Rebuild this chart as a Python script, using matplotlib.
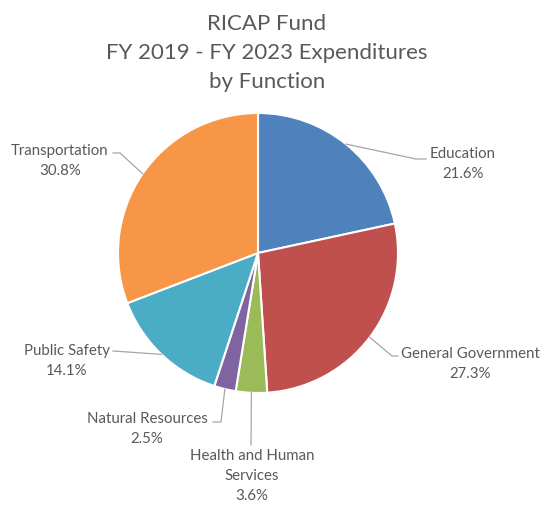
import matplotlib.pyplot as plt
import numpy as np

# RICAP fund spending shares, FY 2019 - FY 2023
functions = ["Education", "General Government", "Health and Human\nServices",
             "Natural Resources", "Public Safety", "Transportation"]
shares = [21.6, 27.3, 3.6, 2.5, 14.1, 30.8]
colors = ["#4F81BD", "#C0504D", "#9BBB59", "#8064A2", "#4BACC6", "#F79646"]

W, H = 544, 506
plt.rcParams['font.family'] = ['Lato', 'DejaVu Sans']
text_grey = "#595959"
line_grey = "#A6A6A6"

fig = plt.figure(figsize=(W / 100, H / 100), dpi=100)
ax = fig.add_axes([0, 0, 1, 1])

# axes work in pixel units with y pointing down, so startangle=-90 is the top
# and counterclock=True runs clockwise on screen
cx, cy, r = 258, 254, 140
wedges, _ = ax.pie(shares, colors=colors, center=(cx, cy), radius=r,
                   startangle=-90, counterclock=True, frame=True,
                   wedgeprops=dict(edgecolor="white", linewidth=1.5))
ax.set_xlim(0, W)
ax.set_ylim(H, 0)
ax.set_aspect("equal")
ax.axis("off")

# label centre and leader path (after the point on the rim) for each slice
label_pos = [(463, 164), (470, 364), (252, 476), (147, 429), (67, 361), (60, 161)]
leaders = [
    [(416, 160), (426, 160)],
    [(392, 357), (398, 357)],
    [(251, 446)],
    [(221, 423), (213, 423)],
    [(113, 352)],
    [(120, 154), (113, 154)],
]

for w, name, val, pos, path in zip(wedges, functions, shares, label_pos, leaders):
    mid = np.deg2rad((w.theta1 + w.theta2) / 2)
    start = (cx + r * np.cos(mid), cy + r * np.sin(mid))
    pts = np.array([start] + path)
    ax.plot(pts[:, 0], pts[:, 1], color=line_grey, lw=0.9)
    ax.text(pos[0], pos[1], f"{name}\n{val}%", ha="center", va="center",
            fontsize=10.8, color=text_grey, linespacing=1.55)

ax.text(267, 53, "RICAP Fund\nFY 2019 - FY 2023 Expenditures\nby Function",
        ha="center", va="center", fontsize=16, color=text_grey, linespacing=1.55)

fig.savefig("out.png", dpi=100, facecolor="white")
